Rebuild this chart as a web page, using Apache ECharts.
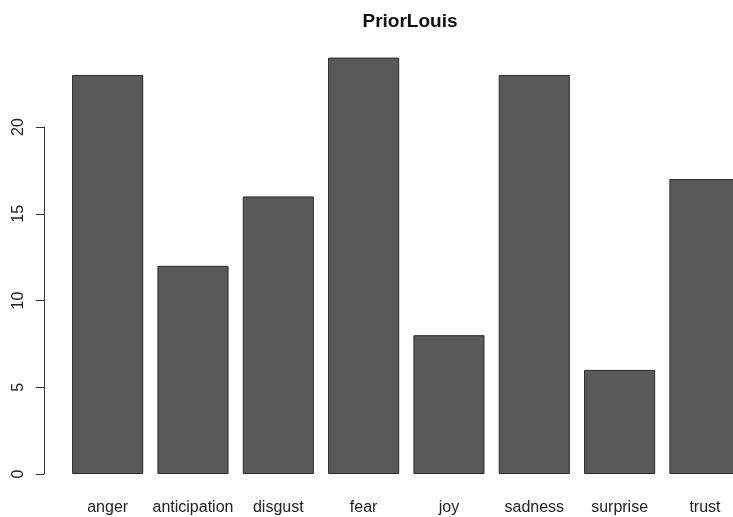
<!DOCTYPE html>
<html>
<head>
<meta charset="utf-8">
<script src="https://cdn.jsdelivr.net/npm/echarts@6/dist/echarts.min.js"></script>
<style>html,body{margin:0;padding:0;background:#fff;overflow:hidden;width:733px;height:517px}#c{width:780px;height:517px}</style>
</head>
<body>
<div id="c"></div>
<script>
const categories = ['anger','anticipation','disgust','fear','joy','sadness','surprise','trust'];
const values = [23, 12, 16, 24, 8, 23, 6, 17];
const yTicks = [0, 5, 10, 15, 20];

const chart = echarts.init(document.getElementById('c'), null, {renderer: 'canvas'});
const font = 'Liberation Sans, Arial, sans-serif';
chart.setOption({
  animation: false,
  backgroundColor: '#ffffff',
  title: {
    text: 'PriorLouis',
    left: 405, top: 7, textAlign: 'center',
    textStyle: {fontFamily: font, fontWeight: 'bold', fontSize: 19, color: '#111'}
  },
  grid: [
    {left: 65, top: 57.6, width: 682.6, height: 416.4, containLabel: false},
    {left: 44, top: 127, width: 10, height: 347, containLabel: false}
  ],
  xAxis: [
    {
      type: 'category', gridIndex: 0, data: categories,
      axisLine: {show: false}, axisTick: {show: false},
      axisLabel: {margin: 26, fontFamily: font, fontSize: 16, color: '#222', interval: 0}
    },
    {type: 'value', gridIndex: 1, show: false, min: 0, max: 1}
  ],
  yAxis: [
    {type: 'value', gridIndex: 0, min: 0, max: 24, show: false, splitLine: {show: false}},
    {
      type: 'value', gridIndex: 1, min: yTicks[0], max: yTicks[yTicks.length - 1], interval: 5,
      position: 'left',
      axisLine: {show: true, lineStyle: {color: '#333', width: 1}},
      axisTick: {show: true, length: 8, inside: false, lineStyle: {color: '#333'}},
      axisLabel: {rotate: 90, margin: 17, fontFamily: font, fontSize: 16, color: '#222'},
      splitLine: {show: false}
    }
  ],
  series: [{
    type: 'bar', xAxisIndex: 0, yAxisIndex: 0,
    data: values, barWidth: 71.1,
    itemStyle: {color: '#595959', borderColor: '#2a2a2a', borderWidth: 1}
  }]
});
</script>
</body>
</html>
